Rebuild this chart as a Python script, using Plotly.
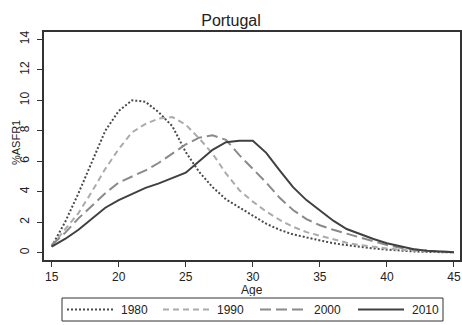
import plotly.graph_objects as go

# Age-specific fertility rates (%), Portugal, single years of age 15-45
ages = list(range(15, 46))

asfr_1980 = [0.4, 2.0, 3.9, 6.0, 8.0, 9.3, 10.0, 9.9, 9.2, 8.3, 6.6, 5.3, 4.3, 3.5,
             2.95, 2.4, 1.9, 1.5, 1.2, 1.0, 0.8, 0.62, 0.5, 0.38, 0.28, 0.2, 0.13,
             0.08, 0.05, 0.03, 0.02]
asfr_1990 = [0.45, 1.5, 2.6, 4.0, 5.5, 6.8, 7.9, 8.45, 8.8, 8.9, 8.4, 7.5, 6.5, 5.2,
             4.1, 3.35, 2.7, 2.15, 1.7, 1.35, 1.1, 0.85, 0.65, 0.5, 0.38, 0.28, 0.2,
             0.13, 0.08, 0.05, 0.03]
asfr_2000 = [0.5, 1.3, 2.25, 3.1, 3.9, 4.6, 5.0, 5.4, 5.9, 6.5, 7.1, 7.55, 7.7, 7.4,
             6.4, 5.5, 4.6, 3.6, 2.8, 2.2, 1.8, 1.5, 1.25, 0.95, 0.7, 0.5, 0.32,
             0.2, 0.12, 0.07, 0.04]
asfr_2010 = [0.4, 0.9, 1.5, 2.25, 2.95, 3.45, 3.85, 4.25, 4.55, 4.9, 5.25, 6.0, 6.75,
             7.25, 7.35, 7.35, 6.55, 5.4, 4.3, 3.45, 2.75, 2.1, 1.55, 1.2, 0.9, 0.62,
             0.4, 0.22, 0.12, 0.06, 0.03]

years = ["1980", "1990", "2000", "2010"]
series = [asfr_1980, asfr_1990, asfr_2000, asfr_2010]
x_ticks = [15, 20, 25, 30, 35, 40, 45]
y_ticks = [0, 2, 4, 6, 8, 10, 12, 14]

styles = {
    "1980": dict(color="#4a4a4a", dash="2px,2px", width=2),
    "1990": dict(color="#ababab", dash="6px,4px", width=2),
    "2000": dict(color="#8a8a8a", dash="11px,5px", width=2),
    "2010": dict(color="#404040", dash="solid", width=2),
}

FONT = "Liberation Sans, Arial, sans-serif"
INK = "#222222"

fig = go.Figure()
for name, vals in zip(years, series):
    fig.add_trace(go.Scatter(x=ages, y=vals, mode="lines", name=name,
                             line=styles[name], showlegend=False))

# plot area spans 44..460 px horizontally and 32..260 px vertically
L, R, T, B = 44, 2, 32, 65
W, H = 462, 325
pw, ph = W - L - R, H - T - B


def px_x(px):
    return (px - L) / pw


def px_y(py):
    return (H - B - py) / ph


# legend drawn as a boxed row of line samples with labels
shapes = [dict(type="rect", xref="paper", yref="paper",
               x0=px_x(62), x1=px_x(443), y0=px_y(298), y1=px_y(321),
               line=dict(color="#333", width=1), fillcolor="white")]
annotations = []
legend_y = px_y(309.5)
sample_starts = [67, 163, 260, 358]
for name, x0 in zip(years, sample_starts):
    st = styles[name]
    shapes.append(dict(type="line", xref="paper", yref="paper",
                       x0=px_x(x0), x1=px_x(x0 + 46), y0=legend_y, y1=legend_y,
                       line=dict(color=st["color"], width=st["width"], dash=st["dash"])))
    annotations.append(dict(text=name, xref="paper", yref="paper",
                            x=px_x(x0 + 52), y=legend_y, xanchor="left",
                            yanchor="middle", showarrow=False,
                            font=dict(size=12, color=INK)))

annotations += [
    dict(text="Age", xref="paper", yref="paper", x=px_x(252), y=px_y(289),
         xanchor="center", yanchor="middle", showarrow=False, height=13,
         font=dict(size=12, color=INK)),
    dict(text="%ASFR1", xref="paper", yref="paper", x=px_x(16), y=px_y(143),
         xanchor="center", yanchor="middle", showarrow=False, textangle=-90,
         font=dict(size=11, color=INK)),
]

fig.update_layout(
    width=W, height=H,
    margin=dict(l=L, r=R, t=T, b=B, pad=0, autoexpand=False),
    showlegend=False,
    paper_bgcolor="white", plot_bgcolor="white",
    font=dict(family=FONT, size=12, color=INK),
    title=dict(text="Portugal", x=px_x(252), xanchor="center",
               y=1 - 20 / H, yanchor="middle",
               font=dict(family=FONT, size=16, color=INK)),
    xaxis=dict(range=[14.43, 45.45], tickvals=x_ticks, ticks="outside",
               ticklen=5, tickwidth=1.2, tickcolor="#333", automargin=False,
               showline=True, linecolor="#333", linewidth=1.5, mirror=True,
               showgrid=False, zeroline=False,
               tickfont=dict(size=12, color=INK)),
    yaxis=dict(range=[-0.48, 14.48], tickvals=y_ticks, ticks="outside",
               ticklen=5, tickwidth=1.2, tickcolor="#333", tickangle=-90,
               ticklabelstandoff=3, automargin=False,
               showline=True, linecolor="#333", linewidth=1.5, mirror=True,
               showgrid=False, zeroline=False,
               tickfont=dict(size=12, color=INK)),
    shapes=shapes,
    annotations=annotations,
)

fig.write_html("out.html")
